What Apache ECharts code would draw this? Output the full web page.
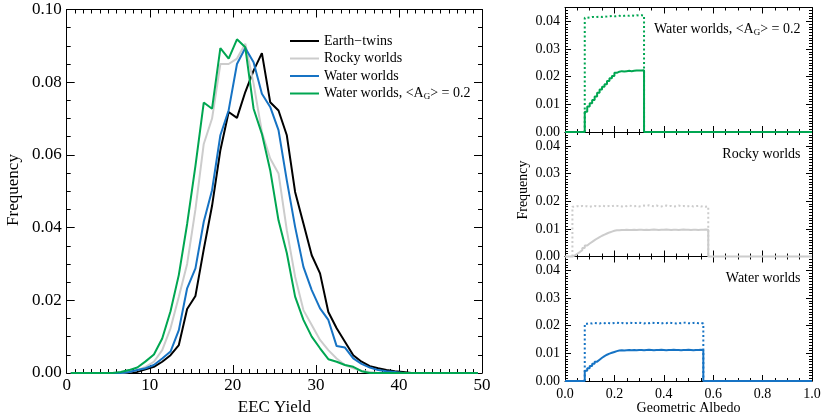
<!DOCTYPE html>
<html><head><meta charset="utf-8">
<script src="https://cdn.jsdelivr.net/npm/echarts@6/dist/echarts.min.js"></script>
<style>html,body{margin:0;padding:0;background:#fff}#c{width:830px;height:415px}</style>
</head><body><div id="c"></div>
<script>
const FONT = 'Liberation Serif';

// ---------- Left panel: EEC yield distributions ----------
const yieldBins = [0.5,1.5,2.5,3.5,4.5,5.5,6.5,7.5,8.5,9.5,10.5,11.5,12.5,13.5,14.5,15.5,16.5,17.5,18.5,19.5,
  20.5,21.5,22.5,23.5,24.5,25.5,26.5,27.5,28.5,29.5,30.5,31.5,32.5,33.5,34.5,35.5,36.5,37.5,38.5,39.5,
  40.5,41.5,42.5,43.5,44.5,45.5,46.5,47.5,48.5,49.5];
const earthTwins = [0,0,0,0,0,0,0,0,
  0.0003,0.0010,0.0017,0.0031,0.0049,0.0077,0.0176,0.0212,0.0340,0.0460,0.0613,0.0718,0.0702,0.0773,0.0832,0.0880,
  0.0745,0.0722,0.0654,0.0498,0.0411,0.0324,0.0274,0.0168,0.0123,0.0086,0.0049,0.0031,0.0019,0.0013,0.0008,0.0005,0.0003,
  0,0,0,0,0,0,0,0,0];
const rockyWorlds = [0,0,0,0,0,0,0,
  0.0003,0.0008,0.0017,0.0031,0.0063,0.0123,0.0210,0.0300,0.0450,0.0630,0.0700,0.0850,0.0850,0.0865,0.0906,0.0796,
  0.0663,0.0590,0.0549,0.0393,0.0265,0.0173,0.0132,0.0091,0.0063,0.0040,0.0022,0.0013,0.0006,0.0003,
  0,0,0,0,0,0,0,0,0,0,0,0,0];
const waterWorlds = [0,0,0,0,0,0,0,
  0.0003,0.0008,0.0013,0.0022,0.0040,0.0059,0.0118,0.0233,0.0288,0.0416,0.0503,0.0654,0.0723,0.0850,0.0894,0.0855,
  0.0768,0.0732,0.0668,0.0530,0.0402,0.0292,0.0228,0.0178,0.0146,0.0074,0.0070,0.0040,0.0025,0.0015,0.0008,0.0005,0.0003,
  0,0,0,0,0,0,0,0,0,0];
const waterWorldsAG02 = [0,0,0,0,0,0,
  0.0003,0.0008,0.0015,0.0032,0.0051,0.0095,0.0170,0.0270,0.0410,0.0570,0.0744,0.0727,0.0894,0.0865,0.0918,0.0896,
  0.0727,0.0658,0.0558,0.0420,0.0330,0.0210,0.0146,0.0100,0.0068,0.0038,0.0031,0.0022,0.0017,0.0005,
  0,0,0,0,0,0,0,0,0,0,0,0,0,0];
const legendNames = ['Earth\u2212twins', 'Rocky worlds', 'Water worlds', 'Water worlds, <AG> = 0.2'];
const yieldTicks = [0, 10, 20, 30, 40, 50];
const freqTicks = [0.00, 0.02, 0.04, 0.06, 0.08, 0.10];

// ---------- Right panels: geometric albedo histograms ----------
const albedoBinWidth = 0.01;
const greenStart = 0.08;
const greenDotted = [0.0413,0.0414,0.0416,0.0415,0.0416,0.0417,0.0416,0.0418,0.0417,0.0418,0.0419,0.0418,
  0.0419,0.0420,0.0419,0.0420,0.0421,0.0420,0.0421,0.0420,0.0422,0.0421,0.0422,0.0421];
const greenSolid = [0.0073,0.0092,0.0104,0.0116,0.0128,0.0142,0.0154,0.0164,0.0173,0.0184,0.0194,0.0202,
  0.0214,0.0218,0.0220,0.0219,0.0220,0.0221,0.0220,0.0221,0.0222,0.0222,0.0222,0.0223];
const grayStart = 0.03;
const grayDotted = [0.0180,0.0182,0.0181,0.0183,0.0181,0.0182,0.0180,0.0182,0.0183,0.0181,
  0.0182,0.0184,0.0182,0.0181,0.0183,0.0182,0.0184,0.0183,0.0182,0.0181,
  0.0183,0.0182,0.0184,0.0183,0.0182,0.0183,0.0181,0.0182,0.0184,0.0183,
  0.0185,0.0183,0.0182,0.0184,0.0182,0.0181,0.0183,0.0184,0.0182,0.0183,
  0.0181,0.0182,0.0184,0.0182,0.0183,0.0181,0.0182,0.0183,0.0181,0.0182,
  0.0183,0.0181,0.0182,0.0180,0.0181];
const graySolid = [0.0004,0.0010,0.0016,0.0023,0.0031,0.0040,0.0047,0.0053,0.0059,0.0065,
  0.0070,0.0075,0.0079,0.0083,0.0087,0.0090,0.0093,0.0095,0.0095,0.0096,
  0.0096,0.0097,0.0096,0.0096,0.0097,0.0096,0.0097,0.0097,0.0096,0.0097,
  0.0096,0.0097,0.0098,0.0097,0.0096,0.0097,0.0097,0.0098,0.0097,0.0096,
  0.0097,0.0097,0.0096,0.0097,0.0098,0.0097,0.0097,0.0096,0.0097,0.0097,
  0.0096,0.0097,0.0097,0.0098,0.0097];
const blueStart = 0.08;
const blueDotted = [0.0207,0.0209,0.0208,0.0210,0.0209,0.0208,0.0210,0.0209,0.0211,0.0209,
  0.0208,0.0210,0.0211,0.0209,0.0210,0.0208,0.0209,0.0211,0.0210,0.0209,
  0.0210,0.0211,0.0209,0.0208,0.0210,0.0209,0.0211,0.0210,0.0209,0.0210,
  0.0208,0.0210,0.0209,0.0211,0.0210,0.0209,0.0208,0.0210,0.0209,0.0211,
  0.0210,0.0209,0.0208,0.0210,0.0211,0.0209,0.0210,0.0208];
const blueSolid = [0.0037,0.0046,0.0054,0.0062,0.0070,0.0077,0.0084,0.0090,0.0095,0.0099,
  0.0102,0.0105,0.0108,0.0110,0.0111,0.0110,0.0111,0.0112,0.0111,0.0112,
  0.0111,0.0112,0.0112,0.0111,0.0112,0.0113,0.0112,0.0111,0.0112,0.0112,
  0.0113,0.0112,0.0111,0.0112,0.0112,0.0113,0.0112,0.0112,0.0111,0.0112,
  0.0112,0.0113,0.0112,0.0111,0.0112,0.0112,0.0113,0.0112];
const panelLabels = ['Water worlds, <AG> = 0.2', 'Rocky worlds', 'Water worlds'];

const C_BLACK = '#000000', C_GRAY = '#cccccc', C_BLUE = '#1673c4', C_GREEN = '#00a651';

// ---------- layout ----------
const LEFT = {left: 66.7, top: 9.5, width: 415.3, height: 363.5};
const RX = 565, RW = 247, RH = 124.5, RTOP = 7.5;

function edgeAt(start, i) { return Math.round((start + i * albedoBinWidth) * 1000) / 1000; }
function solidStep(start, vals) {
  const d = [[0, 0]];
  vals.forEach((v, i) => d.push([edgeAt(start, i), v]));
  d.push([edgeAt(start, vals.length), 0]);
  d.push([1, 0]);
  return d;
}
function dottedStep(start, vals) {
  const d = [[edgeAt(start, 0), 0]];
  vals.forEach((v, i) => d.push([edgeAt(start, i), v]));
  d.push([edgeAt(start, vals.length), 0]);
  return d;
}

function axisBase(g, pos, min, max, interval, minorSplit, majLen, minLen) {
  return {
    type: 'value', gridIndex: g, position: pos, min: min, max: max, interval: interval,
    axisLine: {show: true, onZero: false, lineStyle: {color: '#000', width: 1}},
    axisTick: {show: true, inside: true, length: majLen, lineStyle: {color: '#000', width: 1}},
    minorTick: {show: true, splitNumber: minorSplit, length: minLen, lineStyle: {color: '#000', width: 1}},
    splitLine: {show: false}, minorSplitLine: {show: false},
    axisLabel: {show: false}
  };
}

const grids = [LEFT];
for (let p = 0; p < 3; p++) grids.push({left: RX, top: RTOP + p * RH, width: RW, height: RH});

const xAxes = [], yAxes = [];
// left chart axes
let ax = axisBase(0, 'bottom', yieldTicks[0], yieldTicks[yieldTicks.length - 1], 10, 10, 8, 4);
ax.axisLabel = {show: true, margin: 4, fontFamily: FONT, fontSize: 17, color: '#000', formatter: v => String(v)};
xAxes.push(ax);
xAxes.push(axisBase(0, 'top', 0, 50, 10, 10, 8, 4));
ax = axisBase(0, 'left', freqTicks[0], freqTicks[freqTicks.length - 1], 0.02, 4, 8, 4);
ax.axisLabel = {show: true, margin: 5, fontFamily: FONT, fontSize: 17, color: '#000', formatter: v => v.toFixed(2)};
yAxes.push(ax);
yAxes.push(axisBase(0, 'right', 0, 0.1, 0.02, 4, 8, 4));
// right panels
for (let p = 0; p < 3; p++) {
  const g = p + 1;
  ax = axisBase(g, 'bottom', 0, 1, 0.2, 4, 6, 3);
  if (p === 2) ax.axisLabel = {show: true, margin: 6, fontFamily: FONT, fontSize: 14, color: '#000', formatter: v => v.toFixed(1)};
  xAxes.push(ax);
  xAxes.push(axisBase(g, 'top', 0, 1, 0.2, 4, 6, 3));
  ax = axisBase(g, 'left', 0, 0.045, 0.01, 10, 6, 3);
  ax.axisLabel = {show: true, margin: 5, fontFamily: FONT, fontSize: 14, color: '#000', showMaxLabel: false,
    formatter: v => (Math.abs(v * 100 - Math.round(v * 100)) < 1e-6 ? v.toFixed(2) : '')};
  yAxes.push(ax);
  yAxes.push(axisBase(g, 'right', 0, 0.045, 0.01, 10, 6, 3));
}

function lineSeries(name, xi, yi, data, color, dotted) {
  return {
    name: name, type: 'line', xAxisIndex: xi, yAxisIndex: yi, data: data,
    symbol: 'none', showSymbol: false, silent: true, animation: false, clip: false, z: 5,
    lineStyle: {color: color, width: 2, type: dotted ? [2, 2.5] : 'solid'},
    itemStyle: {color: color}
  };
}
const series = [
  lineSeries(legendNames[0], 0, 0, yieldBins.map((x, i) => [x, earthTwins[i]]), C_BLACK),
  lineSeries(legendNames[1], 0, 0, yieldBins.map((x, i) => [x, rockyWorlds[i]]), C_GRAY),
  lineSeries(legendNames[2], 0, 0, yieldBins.map((x, i) => [x, waterWorlds[i]]), C_BLUE),
  lineSeries(legendNames[3], 0, 0, yieldBins.map((x, i) => [x, waterWorldsAG02[i]]), C_GREEN)
];
const panels = [
  [greenStart, greenDotted, greenSolid, C_GREEN],
  [grayStart, grayDotted, graySolid, C_GRAY],
  [blueStart, blueDotted, blueSolid, C_BLUE]
];
panels.forEach((pp, p) => {
  const xi = 2 + p * 2, yi = 2 + p * 2;
  const sd = lineSeries('dotted' + p, xi, yi, dottedStep(pp[0], pp[1]), pp[3], true);
  sd.step = 'end';
  const ss = lineSeries('solid' + p, xi, yi, solidStep(pp[0], pp[2]), pp[3], false);
  ss.step = 'end';
  series.push(sd, ss);
});

const rich = {
  n: {fontFamily: FONT, fontSize: 14, color: '#000', lineHeight: 16},
  s: {fontFamily: FONT, fontSize: 9, color: '#000', lineHeight: 8, verticalAlign: 'bottom'}
};
function richLabel(name) {
  if (name.indexOf('<AG>') >= 0) {
    const parts = name.split('<AG>');
    return '{n|' + parts[0] + '<A}{s|G}{n|>' + parts[1] + '}';
  }
  return '{n|' + name + '}';
}

const graphic = [
  {type: 'text', x: LEFT.left + LEFT.width / 2, y: 408, style: {text: 'EEC Yield', font: '17px "Liberation Serif"', fill: '#000', align: 'center', verticalAlign: 'middle'}},
  {type: 'text', x: 14, y: 190, rotation: Math.PI / 2, style: {text: 'Frequency', font: '17px "Liberation Serif"', fill: '#000', align: 'center', verticalAlign: 'middle'}},
  {type: 'text', x: RX + RW / 2, y: 408, style: {text: 'Geometric Albedo', font: '14px "Liberation Serif"', fill: '#000', align: 'center', verticalAlign: 'middle'}},
  {type: 'text', x: 523, y: 190, rotation: Math.PI / 2, style: {text: 'Frequency', font: '14px "Liberation Serif"', fill: '#000', align: 'center', verticalAlign: 'middle'}}
];
panelLabels.forEach((t, p) => {
  graphic.push({type: 'text', x: RX + RW - 11.5, y: RTOP + p * RH + 22, style: {text: richLabel(t), rich: rich, align: 'right', verticalAlign: 'middle'}});
});

const option = {
  animation: false,
  backgroundColor: '#fff',
  grid: grids,
  xAxis: xAxes,
  yAxis: yAxes,
  legend: {
    data: legendNames.map(n => ({name: n, icon: 'rect'})), orient: 'vertical', left: 290, top: 34,
    itemWidth: 29, itemHeight: 2, itemGap: 3.5, padding: 0, selectedMode: false,
    formatter: richLabel,
    textStyle: {fontFamily: FONT, fontSize: 14, color: '#000', rich: rich}
  },
  series: series,
  graphic: graphic
};
const chart = echarts.init(document.getElementById('c'), null, {renderer: 'canvas', width: 830, height: 415});
chart.setOption(option);
</script>
</body></html>
